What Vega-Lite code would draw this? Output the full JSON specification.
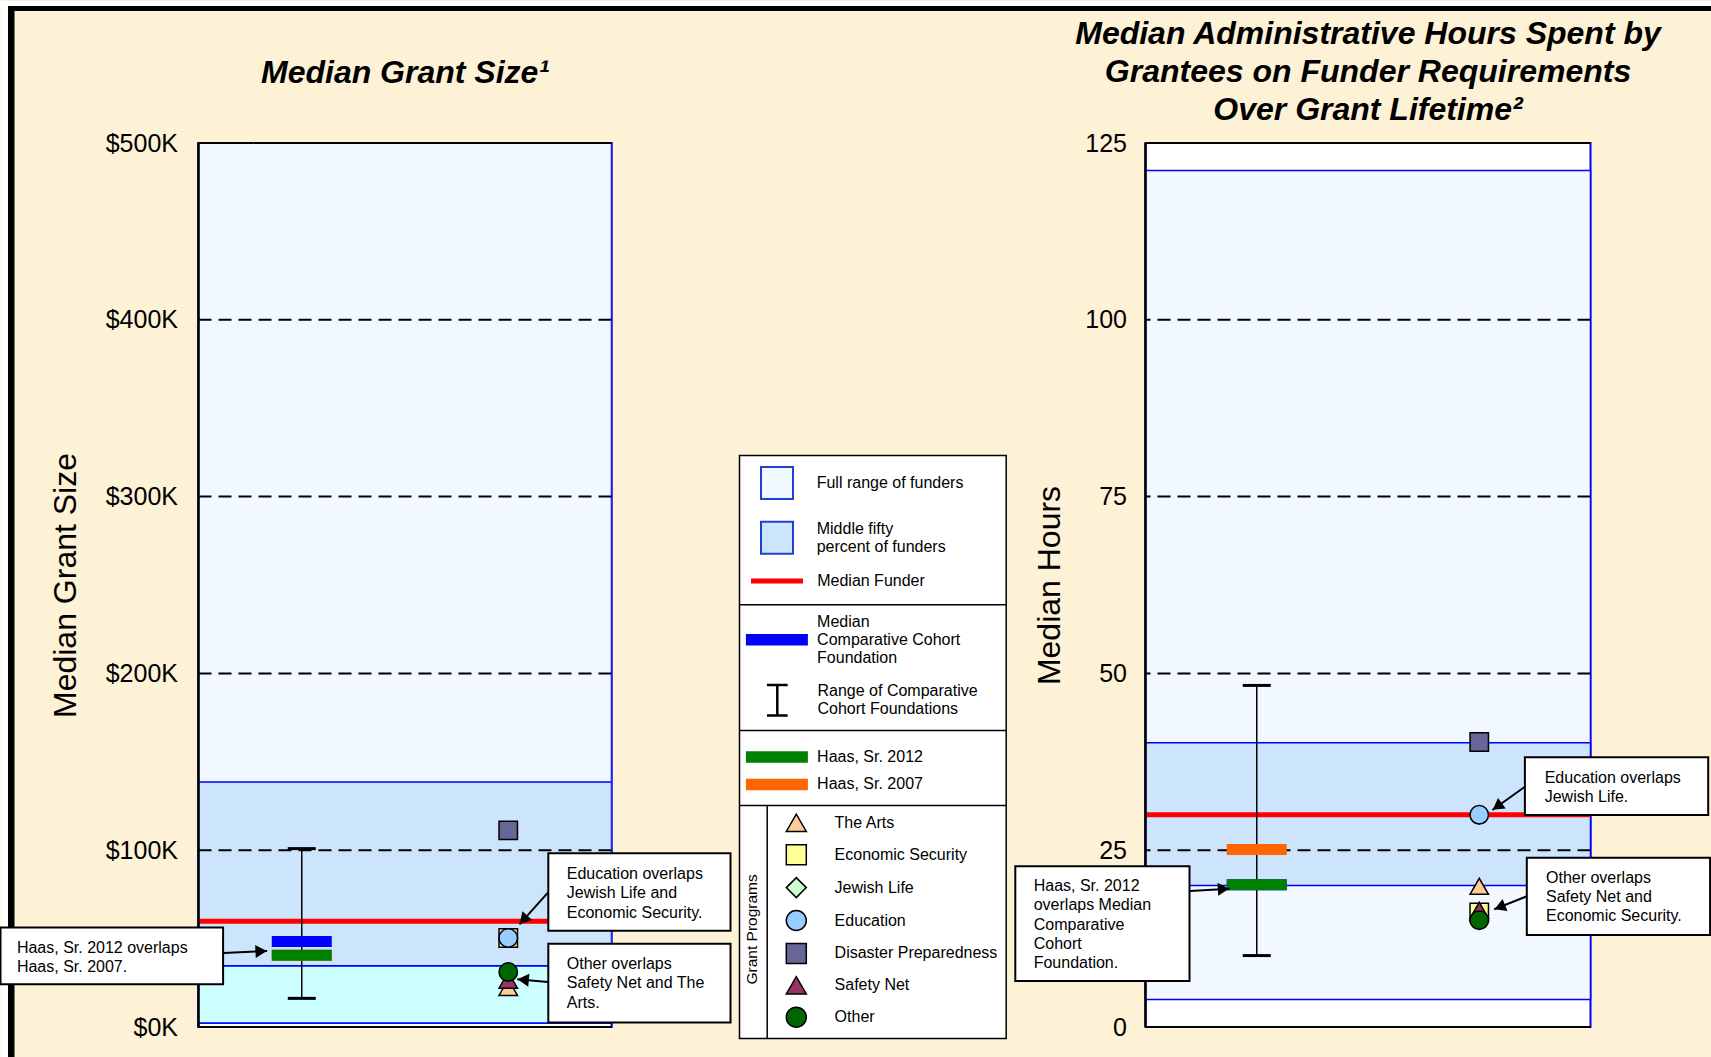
{
  "$schema": "https://vega.github.io/schema/vega-lite/v6.json",
  "background": "#fdf1d6",
  "padding": {"left": -2.5, "top": -1, "right": 0, "bottom": 0},
  "autosize": {"type": "pad"},
  "spacing": 534,
  "bounds": "flush",
  "datasets": {
    "grant_bands": [
      {"stat": "Full range of funders", "low": 2.3, "high": 520},
      {"stat": "Lower quartile of funders", "low": 2.3, "high": 34.7},
      {"stat": "Middle fifty percent of funders", "low": 34.7, "high": 138.6}
    ],
    "grant_median": [{"stat": "Median Funder", "value": 59.8}],
    "grant_grid": [{"tick": 0}, {"tick": 100}, {"tick": 200}, {"tick": 300}, {"tick": 400}, {"tick": 500}],
    "grant_cohort": [
      {"stat": "Median Comparative Cohort Foundation", "group": "Comparative Cohort", "value": 48.3},
      {"stat": "Range of Comparative Cohort Foundations", "group": "Comparative Cohort", "low": 16.2, "high": 100.9}
    ],
    "grant_haas": [
      {"stat": "Haas, Sr. 2007", "group": "Comparative Cohort", "value": 40.6},
      {"stat": "Haas, Sr. 2012", "group": "Comparative Cohort", "value": 40.6}
    ],
    "grant_programs": [
      {"program": "Jewish Life", "group": "Grant Programs", "value": 50.3},
      {"program": "Economic Security", "group": "Grant Programs", "value": 50.3},
      {"program": "Education", "group": "Grant Programs", "value": 50.3},
      {"program": "Disaster Preparedness", "group": "Grant Programs", "value": 111.2},
      {"program": "The Arts", "group": "Grant Programs", "value": 22.4},
      {"program": "Safety Net", "group": "Grant Programs", "value": 26.5},
      {"program": "Other", "group": "Grant Programs", "value": 31.1}
    ],
    "hours_bands": [
      {"stat": "Full range of funders", "low": 3.9, "high": 121.1},
      {"stat": "Middle fifty percent of funders", "low": 20.0, "high": 40.2}
    ],
    "hours_median": [{"stat": "Median Funder", "value": 30.0}],
    "hours_grid": [{"tick": 0}, {"tick": 25}, {"tick": 50}, {"tick": 75}, {"tick": 100}, {"tick": 125}],
    "hours_cohort": [
      {"stat": "Median Comparative Cohort Foundation", "group": "Comparative Cohort", "value": 20.1},
      {"stat": "Range of Comparative Cohort Foundations", "group": "Comparative Cohort", "low": 10.1, "high": 48.3}
    ],
    "hours_haas": [
      {"stat": "Haas, Sr. 2007", "group": "Comparative Cohort", "value": 25.1},
      {"stat": "Haas, Sr. 2012", "group": "Comparative Cohort", "value": 20.1}
    ],
    "hours_programs": [
      {"program": "Jewish Life", "group": "Grant Programs", "value": 30.0},
      {"program": "Economic Security", "group": "Grant Programs", "value": 16.2},
      {"program": "Education", "group": "Grant Programs", "value": 30.0},
      {"program": "Disaster Preparedness", "group": "Grant Programs", "value": 40.3},
      {"program": "The Arts", "group": "Grant Programs", "value": 19.9},
      {"program": "Safety Net", "group": "Grant Programs", "value": 16.5},
      {"program": "Other", "group": "Grant Programs", "value": 15.1}
    ]
  },
  "hconcat": [
    {
      "width": 413,
      "height": 884,
      "title": {"text": "Median Grant Size¹", "offset": -88.6},
      "resolve": {
        "scale": {"x": "independent", "fill": "independent", "shape": "independent", "stroke": "independent"},
        "legend": {"fill": "independent", "shape": "independent", "stroke": "independent"}
      },
      "layer": [
        {
          "data": {"values": [{}]},
          "layer": [
            {"mark": {"type": "rect", "fill": "white"},
             "encoding": {"x": {"datum": -0.47942, "type": "quantitative", "scale": {"domain": [0, 1], "nice": false, "zero": false}, "axis": null}, "x2": {"datum": 3.66344},
                          "y": {"datum": 580.317, "type": "quantitative"}, "y2": {"datum": 577.489}}},
            {"mark": {"type": "rect", "fill": "white"},
             "encoding": {"x": {"datum": -0.47942, "type": "quantitative", "axis": null}, "x2": {"datum": -0.46126},
                          "y": {"datum": 580.317, "type": "quantitative"}, "y2": {"datum": -17.534}}},
            {"mark": {"type": "rect", "fill": "black"},
             "encoding": {"x": {"datum": -0.46126, "type": "quantitative", "axis": null}, "x2": {"datum": 3.66344},
                          "y": {"datum": 577.489, "type": "quantitative"}, "y2": {"datum": 574.661}}},
            {"mark": {"type": "rect", "fill": "black"},
             "encoding": {"x": {"datum": -0.46126, "type": "quantitative", "axis": null}, "x2": {"datum": -0.44552},
                          "y": {"datum": 577.489, "type": "quantitative"}, "y2": {"datum": -17.534}}},
            {"mark": {"type": "rect", "fill": "white", "stroke": "#0000ff", "strokeWidth": 2},
             "encoding": {"x": {"datum": 0, "type": "quantitative", "axis": null}, "x2": {"datum": 1},
                          "y": {"datum": 0, "type": "quantitative"}, "y2": {"datum": 500}}}
          ]
        },
        {
          "data": {"name": "grant_bands"},
          "transform": [{"filter": "datum.stat !== 'Middle fifty percent of funders'"}],
          "mark": {"type": "rect", "stroke": "#0000ff", "strokeWidth": 1.5, "clip": true},
          "encoding": {
            "y": {"field": "low", "type": "quantitative", "scale": {"domain": [0, 500], "nice": false, "zero": true},
                  "axis": {"title": "Median Grant Size", "values": [0, 100, 200, 300, 400, 500], "labelExpr": "'$' + datum.value + 'K'", "labelPadding": 21, "titlePadding": 23, "zindex": 1, "domain": false}},
            "y2": {"field": "high"},
            "color": {"field": "stat", "type": "nominal",
              "scale": {"domain": ["Full range of funders", "Lower quartile of funders"], "range": ["#f2f8ff", "#ccffff"]},
              "legend": {
                "orient": "none", "legendX": 561.5, "legendY": 323, "title": null, "padding": 0, "offset": 0,
                "symbolType": "square", "symbolSize": 1024, "symbolStrokeColor": "#2040d0", "symbolStrokeWidth": 2,
                "symbolOffset": 0, "labelOffset": 22.7,
                "values": ["Full range of funders"]
              }
            }
          }
        },
        {
          "data": {"name": "grant_bands"},
          "transform": [{"filter": "datum.stat === 'Middle fifty percent of funders'"}],
          "mark": {"type": "rect", "stroke": "#0000ff", "strokeWidth": 1.5, "clip": true},
          "encoding": {
            "y": {"field": "low", "type": "quantitative"},
            "y2": {"field": "high"},
            "fill": {"field": "stat", "type": "nominal",
              "scale": {"domain": ["Middle fifty percent of funders"], "range": ["#cde5fc"]},
              "legend": {
                "orient": "none", "legendX": 561.5, "legendY": 368.7, "title": null, "padding": 0, "offset": 0,
                "symbolType": "M-1,-0.4375H1V1.5625H-1Z", "symbolSize": 1024, "symbolStrokeColor": "#2040d0", "symbolStrokeWidth": 2,
                "symbolOffset": 0, "labelOffset": 22.7,
                "labelExpr": "['Middle fifty', 'percent of funders']"
              }
            }
          }
        },
        {
          "data": {"name": "grant_grid"},
          "mark": {"type": "rule", "color": "black", "strokeWidth": 2},
          "encoding": {
            "y": {"field": "tick", "type": "quantitative"},
            "strokeDash": {"condition": {"test": "datum.tick === 0 || datum.tick === 500", "value": [1, 0]}, "value": [13, 7]}
          }
        },
        {
          "data": {"name": "grant_median"},
          "mark": {"type": "rule", "strokeWidth": 5},
          "encoding": {
            "y": {"field": "value", "type": "quantitative"},
            "stroke": {"field": "stat", "type": "nominal",
              "scale": {"domain": ["Median Funder"], "range": ["#ff0000"]},
              "legend": {
                "orient": "none", "legendX": 550, "legendY": 409.5, "title": null, "padding": 0, "offset": 0,
                "symbolType": "M-1,0H1", "symbolSize": 2704, "symbolStrokeWidth": 5, "symbolFillColor": "transparent",
                "symbolOffset": 0, "labelOffset": 11.7
              }
            }
          }
        },
        {
          "data": {"name": "grant_cohort"},
          "transform": [{"filter": "datum.stat === 'Range of Comparative Cohort Foundations'"}],
          "mark": {"type": "rule", "color": "black", "strokeWidth": 1.5},
          "encoding": {
            "x": {"field": "group", "type": "nominal", "scale": {"type": "band", "domain": ["Comparative Cohort", "Grant Programs"], "paddingInner": 0, "paddingOuter": 0}, "axis": null},
            "y": {"field": "low", "type": "quantitative"},
            "y2": {"field": "high"},
            "strokeDash": {"field": "stat", "type": "nominal",
              "scale": {"domain": ["Range of Comparative Cohort Foundations"], "range": [[1, 0]]},
              "legend": {
                "orient": "none", "legendX": 546.3, "legendY": 515.75, "title": null, "padding": 0, "offset": 0,
                "symbolType": "M-0.334,-0.204H0.334M0,-0.204V0.784M-0.334,0.784H0.334", "symbolSize": 3844,
                "symbolStrokeColor": "black", "symbolStrokeWidth": 2.5, "symbolFillColor": "transparent",
                "symbolOffset": 0, "labelOffset": 7.7,
                "labelExpr": "['Range of Comparative', 'Cohort Foundations']"
              }
            }
          }
        },
        {
          "data": {"name": "grant_cohort"},
          "transform": [{"filter": "datum.stat === 'Range of Comparative Cohort Foundations'"}],
          "mark": {"type": "tick", "color": "black", "thickness": 3, "size": 28, "opacity": 1},
          "encoding": {
            "x": {"field": "group", "type": "nominal", "scale": {"type": "band", "domain": ["Comparative Cohort", "Grant Programs"], "paddingInner": 0, "paddingOuter": 0}, "axis": null},
            "y": {"field": "low", "type": "quantitative"}
          }
        },
        {
          "data": {"name": "grant_cohort"},
          "transform": [{"filter": "datum.stat === 'Range of Comparative Cohort Foundations'"}],
          "mark": {"type": "tick", "color": "black", "thickness": 3, "size": 28, "opacity": 1},
          "encoding": {
            "x": {"field": "group", "type": "nominal", "scale": {"type": "band", "domain": ["Comparative Cohort", "Grant Programs"], "paddingInner": 0, "paddingOuter": 0}, "axis": null},
            "y": {"field": "high", "type": "quantitative"}
          }
        },
        {
          "data": {"name": "grant_cohort"},
          "transform": [{"filter": "datum.stat === 'Median Comparative Cohort Foundation'"}],
          "mark": {"type": "tick", "color": "#0000ff", "thickness": 11, "size": 60},
          "encoding": {
            "x": {"field": "group", "type": "nominal", "scale": {"type": "band", "domain": ["Comparative Cohort", "Grant Programs"], "paddingInner": 0, "paddingOuter": 0}, "axis": null},
            "y": {"field": "value", "type": "quantitative"},
            "opacity": {"field": "stat", "type": "nominal",
              "scale": {"domain": ["Median Comparative Cohort Foundation"], "range": [1]},
              "legend": {
                "orient": "none", "legendX": 547.4, "legendY": 447.7, "title": null, "padding": 0, "offset": 0,
                "symbolType": "M-1,0.396H1V0.766H-1Z", "symbolSize": 3844,
                "symbolFillColor": "#0000ff", "symbolStrokeColor": "transparent", "symbolStrokeWidth": 0,
                "symbolOffset": 0, "labelOffset": 9.2,
                "labelExpr": "['Median', 'Comparative Cohort', 'Foundation']"
              }
            }
          }
        },
        {
          "data": {"name": "grant_haas"},
          "mark": {"type": "tick", "thickness": 11, "size": 60, "opacity": 1},
          "encoding": {
            "x": {"field": "group", "type": "nominal", "scale": {"type": "band", "domain": ["Comparative Cohort", "Grant Programs"], "paddingInner": 0, "paddingOuter": 0}, "axis": null},
            "y": {"field": "value", "type": "quantitative"},
            "fill": {"field": "stat", "type": "nominal",
              "scale": {"domain": ["Haas, Sr. 2012", "Haas, Sr. 2007"], "range": ["#008000", "#ff6600"]},
              "legend": {
                "orient": "none", "legendX": 570.4, "legendY": 606, "title": null, "padding": 0, "offset": 0,
                "symbolType": "M-3.875,-0.719H3.875V0.719H-3.875Z", "symbolSize": 256, "symbolStrokeWidth": 0,
                "symbolOffset": 0, "labelOffset": 32.2, "rowPadding": 11.4
              }
            }
          }
        },
        {
          "data": {"name": "grant_programs"},
          "mark": {"type": "point", "filled": true, "size": 340, "strokeWidth": 1.5, "opacity": 1},
          "encoding": {
            "x": {"field": "group", "type": "nominal", "scale": {"type": "band", "domain": ["Comparative Cohort", "Grant Programs"], "paddingInner": 0, "paddingOuter": 0}, "axis": null},
            "y": {"field": "value", "type": "quantitative"},
            "shape": {"field": "program", "type": "nominal",
              "scale": {"domain": ["The Arts", "Economic Security", "Jewish Life", "Education", "Disaster Preparedness", "Safety Net", "Other"],
                        "range": ["triangle-up", "square", "diamond", "circle", "square", "triangle-up", "circle"]},
              "legend": {
                "orient": "none", "legendX": 586.8, "legendY": 668.8, "title": null, "padding": 0, "offset": 0,
                "symbolSize": 400, "symbolOffset": 0, "labelOffset": 27.3, "rowPadding": 6.9, "symbolStrokeWidth": 1.5
              }
            },
            "fill": {"field": "program", "type": "nominal",
              "scale": {"domain": ["The Arts", "Economic Security", "Jewish Life", "Education", "Disaster Preparedness", "Safety Net", "Other"],
                        "range": ["#ffcc99", "#ffff99", "#ccffcc", "#99ccff", "#666699", "#993366", "#006600"]},
              "legend": {
                "orient": "none", "legendX": 586.8, "legendY": 668.8, "title": null, "padding": 0, "offset": 0,
                "symbolSize": 400, "symbolOffset": 0, "labelOffset": 27.3, "rowPadding": 6.9, "symbolStrokeWidth": 1.5
              }
            },
            "stroke": {"field": "program", "type": "nominal",
              "scale": {"domain": ["The Arts", "Economic Security", "Jewish Life", "Education", "Disaster Preparedness", "Safety Net", "Other"],
                        "range": ["black", "black", "black", "black", "black", "black", "black"]},
              "legend": {
                "orient": "none", "legendX": 586.8, "legendY": 668.8, "title": null, "padding": 0, "offset": 0,
                "symbolSize": 400, "symbolOffset": 0, "labelOffset": 27.3, "rowPadding": 6.9, "symbolStrokeWidth": 1.5
              }
            }
          }
        },
        {
          "data": {"values": [{}]},
          "layer": [
            {"mark": {"type": "rule", "color": "black", "strokeWidth": 2.5},
             "encoding": {"x": {"datum": 0, "type": "quantitative", "scale": {"domain": [0, 1], "nice": false, "zero": false}, "axis": null},
                          "y": {"datum": 0, "type": "quantitative"}, "y2": {"datum": 500}}},
            {"mark": {"type": "rect", "fill": "white", "stroke": "black", "strokeWidth": 2},
             "encoding": {"x": {"datum": -0.47942, "type": "quantitative", "axis": null}, "x2": {"datum": 0.05956},
                          "y": {"datum": 56.335, "type": "quantitative"}, "y2": {"datum": 24.208}}},
            {"mark": {"type": "text", "align": "left", "baseline": "top", "fontSize": 16, "lineHeight": 18.6, "color": "black"},
             "encoding": {"x": {"datum": -0.43971, "type": "quantitative", "axis": null}, "y": {"datum": 49.208, "type": "quantitative"},
                          "text": {"value": ["Haas, Sr. 2012 overlaps", "Haas, Sr. 2007."]}}},
            {"mark": {"type": "rule", "color": "black", "strokeWidth": 2},
             "encoding": {"x": {"datum": 0.06053, "type": "quantitative", "axis": null}, "x2": {"datum": 0.1661},
                          "y": {"datum": 41.855, "type": "quantitative"}, "y2": {"datum": 42.986}}},
            {"mark": {"type": "point", "shape": "triangle-up", "filled": true, "color": "black", "size": 170, "angle": 87, "opacity": 1},
             "encoding": {"x": {"datum": 0.15157, "type": "quantitative", "axis": null}, "y": {"datum": 42.816, "type": "quantitative"}}},

            {"mark": {"type": "rect", "fill": "white", "stroke": "black", "strokeWidth": 2},
             "encoding": {"x": {"datum": 0.84697, "type": "quantitative", "axis": null}, "x2": {"datum": 1.28814},
                          "y": {"datum": 98.303, "type": "quantitative"}, "y2": {"datum": 54.468}}},
            {"mark": {"type": "text", "align": "left", "baseline": "top", "fontSize": 16, "lineHeight": 19.6, "color": "black"},
             "encoding": {"x": {"datum": 0.89177, "type": "quantitative", "axis": null}, "y": {"datum": 91.12, "type": "quantitative"},
                          "text": {"value": ["Education overlaps", "Jewish Life and", "Economic Security."]}}},
            {"mark": {"type": "rule", "color": "black", "strokeWidth": 2},
             "encoding": {"x": {"datum": 0.846, "type": "quantitative", "axis": null}, "x2": {"datum": 0.77724},
                          "y": {"datum": 75.961, "type": "quantitative"}, "y2": {"datum": 58.088}}},
            {"mark": {"type": "point", "shape": "triangle-up", "filled": true, "color": "black", "size": 170, "angle": 222, "opacity": 1},
             "encoding": {"x": {"datum": 0.78692, "type": "quantitative", "axis": null}, "y": {"datum": 60.634, "type": "quantitative"}}},

            {"mark": {"type": "rect", "fill": "white", "stroke": "black", "strokeWidth": 2},
             "encoding": {"x": {"datum": 0.84697, "type": "quantitative", "axis": null}, "x2": {"datum": 1.28814},
                          "y": {"datum": 47.059, "type": "quantitative"}, "y2": {"datum": 2.602}}},
            {"mark": {"type": "text", "align": "left", "baseline": "top", "fontSize": 16, "lineHeight": 19.1, "color": "black"},
             "encoding": {"x": {"datum": 0.89177, "type": "quantitative", "axis": null}, "y": {"datum": 39.932, "type": "quantitative"},
                          "text": {"value": ["Other overlaps", "Safety Net and The", "Arts."]}}},
            {"mark": {"type": "rule", "color": "black", "strokeWidth": 2},
             "encoding": {"x": {"datum": 0.846, "type": "quantitative", "axis": null}, "x2": {"datum": 0.77167},
                          "y": {"datum": 25.452, "type": "quantitative"}, "y2": {"datum": 26.98}}},
            {"mark": {"type": "point", "shape": "triangle-up", "filled": true, "color": "black", "size": 170, "angle": 275, "opacity": 1},
             "encoding": {"x": {"datum": 0.7862, "type": "quantitative", "axis": null}, "y": {"datum": 26.697, "type": "quantitative"}}},

            {"mark": {"type": "rect", "fill": "white", "stroke": "black", "strokeWidth": 1.5},
             "encoding": {"x": {"datum": 1.30993, "type": "quantitative", "axis": null}, "x2": {"datum": 1.95569},
                          "y": {"datum": 323.19, "type": "quantitative"}, "y2": {"datum": -6.505}}},
            {"mark": {"type": "rule", "color": "black", "strokeWidth": 1.5},
             "encoding": {"x": {"datum": 1.30993, "type": "quantitative", "axis": null}, "x2": {"datum": 1.95569}, "y": {"datum": 238.8, "type": "quantitative"}}},
            {"mark": {"type": "rule", "color": "black", "strokeWidth": 1.5},
             "encoding": {"x": {"datum": 1.30993, "type": "quantitative", "axis": null}, "x2": {"datum": 1.95569}, "y": {"datum": 167.76, "type": "quantitative"}}},
            {"mark": {"type": "rule", "color": "black", "strokeWidth": 1.5},
             "encoding": {"x": {"datum": 1.30993, "type": "quantitative", "axis": null}, "x2": {"datum": 1.95569}, "y": {"datum": 125.34, "type": "quantitative"}}},
            {"mark": {"type": "rule", "color": "black", "strokeWidth": 1.5},
             "encoding": {"x": {"datum": 1.377, "type": "quantitative", "axis": null}, "y": {"datum": 125.34, "type": "quantitative"}, "y2": {"datum": -6.505}}},
            {"mark": {"type": "text", "align": "center", "baseline": "middle", "fontSize": 15.5, "angle": 270, "color": "black"},
             "encoding": {"x": {"datum": 1.34068, "type": "quantitative", "axis": null}, "y": {"datum": 55.2, "type": "quantitative"},
                          "text": {"value": "Grant Programs"}}}
          ]
        }
      ]
    },
    {
      "width": 445,
      "height": 884,
      "title": {"text": ["Median Administrative Hours Spent by", "Grantees on Funder Requirements", "Over Grant Lifetime²"], "offset": 4},
      "resolve": {
        "scale": {"x": "independent", "fill": "independent", "shape": "independent", "stroke": "independent"},
        "legend": {"fill": "independent", "shape": "independent", "stroke": "independent"}
      },
      "layer": [
        {
          "data": {"name": "hours_bands"},
          "mark": {"type": "rect", "stroke": "#0000ff", "strokeWidth": 1.5},
          "encoding": {
            "y": {"field": "low", "type": "quantitative", "scale": {"domain": [0, 125], "nice": false, "zero": true},
                  "axis": {"title": "Median Hours", "values": [0, 25, 50, 75, 100, 125], "labelPadding": 19, "titlePadding": 18, "zindex": 1, "domain": false}},
            "y2": {"field": "high"},
            "color": {"field": "stat", "type": "nominal",
              "scale": {"domain": ["Full range of funders", "Middle fifty percent of funders", "Lower quartile of funders"],
                        "range": ["#f2f8ff", "#cde5fc", "#ccffff"]},
              "legend": null}
          }
        },
        {
          "data": {"name": "hours_grid"},
          "mark": {"type": "rule", "color": "black", "strokeWidth": 2},
          "encoding": {
            "y": {"field": "tick", "type": "quantitative"},
            "strokeDash": {"condition": {"test": "datum.tick === 0 || datum.tick === 125", "value": [1, 0]}, "value": [13, 7]}
          }
        },
        {
          "data": {"name": "hours_median"},
          "mark": {"type": "rule", "strokeWidth": 5},
          "encoding": {
            "y": {"field": "value", "type": "quantitative"},
            "stroke": {"field": "stat", "type": "nominal", "scale": {"domain": ["Median Funder"], "range": ["#ff0000"]}, "legend": null}
          }
        },
        {
          "data": {"name": "hours_cohort"},
          "transform": [{"filter": "datum.stat === 'Range of Comparative Cohort Foundations'"}],
          "mark": {"type": "rule", "color": "black", "strokeWidth": 1.5},
          "encoding": {
            "x": {"field": "group", "type": "nominal", "scale": {"type": "band", "domain": ["Comparative Cohort", "Grant Programs"], "paddingInner": 0, "paddingOuter": 0}, "axis": null},
            "y": {"field": "low", "type": "quantitative"},
            "y2": {"field": "high"},
            "strokeDash": {"field": "stat", "type": "nominal", "scale": {"domain": ["Range of Comparative Cohort Foundations"], "range": [[1, 0]]}, "legend": null}
          }
        },
        {
          "data": {"name": "hours_cohort"},
          "transform": [{"filter": "datum.stat === 'Range of Comparative Cohort Foundations'"}],
          "mark": {"type": "tick", "color": "black", "thickness": 3, "size": 28, "opacity": 1},
          "encoding": {
            "x": {"field": "group", "type": "nominal", "scale": {"type": "band", "domain": ["Comparative Cohort", "Grant Programs"], "paddingInner": 0, "paddingOuter": 0}, "axis": null},
            "y": {"field": "low", "type": "quantitative"}
          }
        },
        {
          "data": {"name": "hours_cohort"},
          "transform": [{"filter": "datum.stat === 'Range of Comparative Cohort Foundations'"}],
          "mark": {"type": "tick", "color": "black", "thickness": 3, "size": 28, "opacity": 1},
          "encoding": {
            "x": {"field": "group", "type": "nominal", "scale": {"type": "band", "domain": ["Comparative Cohort", "Grant Programs"], "paddingInner": 0, "paddingOuter": 0}, "axis": null},
            "y": {"field": "high", "type": "quantitative"}
          }
        },
        {
          "data": {"name": "hours_cohort"},
          "transform": [{"filter": "datum.stat === 'Median Comparative Cohort Foundation'"}],
          "mark": {"type": "tick", "color": "#0000ff", "thickness": 11, "size": 60},
          "encoding": {
            "x": {"field": "group", "type": "nominal", "scale": {"type": "band", "domain": ["Comparative Cohort", "Grant Programs"], "paddingInner": 0, "paddingOuter": 0}, "axis": null},
            "y": {"field": "value", "type": "quantitative"},
            "opacity": {"field": "stat", "type": "nominal", "scale": {"domain": ["Median Comparative Cohort Foundation"], "range": [1]}, "legend": null}
          }
        },
        {
          "data": {"name": "hours_haas"},
          "mark": {"type": "tick", "thickness": 11, "size": 60, "opacity": 1},
          "encoding": {
            "x": {"field": "group", "type": "nominal", "scale": {"type": "band", "domain": ["Comparative Cohort", "Grant Programs"], "paddingInner": 0, "paddingOuter": 0}, "axis": null},
            "y": {"field": "value", "type": "quantitative"},
            "fill": {"field": "stat", "type": "nominal",
              "scale": {"domain": ["Haas, Sr. 2012", "Haas, Sr. 2007"], "range": ["#008000", "#ff6600"]}, "legend": null}
          }
        },
        {
          "data": {"name": "hours_programs"},
          "mark": {"type": "point", "filled": true, "size": 340, "strokeWidth": 1.5, "opacity": 1},
          "encoding": {
            "x": {"field": "group", "type": "nominal", "scale": {"type": "band", "domain": ["Comparative Cohort", "Grant Programs"], "paddingInner": 0, "paddingOuter": 0}, "axis": null},
            "y": {"field": "value", "type": "quantitative"},
            "shape": {"field": "program", "type": "nominal",
              "scale": {"domain": ["The Arts", "Economic Security", "Jewish Life", "Education", "Disaster Preparedness", "Safety Net", "Other"],
                        "range": ["triangle-up", "square", "diamond", "circle", "square", "triangle-up", "circle"]}, "legend": null},
            "fill": {"field": "program", "type": "nominal",
              "scale": {"domain": ["The Arts", "Economic Security", "Jewish Life", "Education", "Disaster Preparedness", "Safety Net", "Other"],
                        "range": ["#ffcc99", "#ffff99", "#ccffcc", "#99ccff", "#666699", "#993366", "#006600"]}, "legend": null},
            "stroke": {"field": "program", "type": "nominal",
              "scale": {"domain": ["The Arts", "Economic Security", "Jewish Life", "Education", "Disaster Preparedness", "Safety Net", "Other"],
                        "range": ["black", "black", "black", "black", "black", "black", "black"]}, "legend": null}
          }
        },
        {
          "data": {"values": [{}]},
          "layer": [
            {"mark": {"type": "rule", "color": "black", "strokeWidth": 2.5},
             "encoding": {"x": {"datum": 0, "type": "quantitative", "scale": {"domain": [0, 1], "nice": false, "zero": false}, "axis": null},
                          "y": {"datum": 0, "type": "quantitative"}, "y2": {"datum": 125}}},
            {"mark": {"type": "rect", "fill": "white", "stroke": "black", "strokeWidth": 2},
             "encoding": {"x": {"datum": 0.85258, "type": "quantitative", "axis": null}, "x2": {"datum": 1.26449},
                          "y": {"datum": 38.15, "type": "quantitative"}, "y2": {"datum": 29.977}}},
            {"mark": {"type": "text", "align": "left", "baseline": "top", "fontSize": 16, "lineHeight": 19.3, "color": "black"},
             "encoding": {"x": {"datum": 0.89708, "type": "quantitative", "axis": null}, "y": {"datum": 36.383, "type": "quantitative"},
                          "text": {"value": ["Education overlaps", "Jewish Life."]}}},
            {"mark": {"type": "rule", "color": "black", "strokeWidth": 2},
             "encoding": {"x": {"datum": 0.85169, "type": "quantitative", "axis": null}, "x2": {"datum": 0.77955},
                          "y": {"datum": 33.937, "type": "quantitative"}, "y2": {"datum": 30.684}}},
            {"mark": {"type": "point", "shape": "triangle-up", "filled": true, "color": "black", "size": 170, "angle": 234, "opacity": 1},
             "encoding": {"x": {"datum": 0.79056, "type": "quantitative", "axis": null}, "y": {"datum": 31.179, "type": "quantitative"}}},

            {"mark": {"type": "rect", "fill": "white", "stroke": "black", "strokeWidth": 2},
             "encoding": {"x": {"datum": 0.85685, "type": "quantitative", "axis": null}, "x2": {"datum": 1.26876},
                          "y": {"datum": 23.94, "type": "quantitative"}, "y2": {"datum": 13.009}}},
            {"mark": {"type": "text", "align": "left", "baseline": "top", "fontSize": 16, "lineHeight": 19.15, "color": "black"},
             "encoding": {"x": {"datum": 0.9, "type": "quantitative", "axis": null}, "y": {"datum": 22.2, "type": "quantitative"},
                          "text": {"value": ["Other overlaps", "Safety Net and", "Economic Security."]}}},
            {"mark": {"type": "rule", "color": "black", "strokeWidth": 2},
             "encoding": {"x": {"datum": 0.85685, "type": "quantitative", "axis": null}, "x2": {"datum": 0.7836},
                          "y": {"datum": 18.481, "type": "quantitative"}, "y2": {"datum": 16.643}}},
            {"mark": {"type": "point", "shape": "triangle-up", "filled": true, "color": "black", "size": 170, "angle": 248, "opacity": 1},
             "encoding": {"x": {"datum": 0.79618, "type": "quantitative", "axis": null}, "y": {"datum": 16.954, "type": "quantitative"}}},

            {"mark": {"type": "rect", "fill": "white", "stroke": "black", "strokeWidth": 2},
             "encoding": {"x": {"datum": -0.29258, "type": "quantitative", "axis": null}, "x2": {"datum": 0.09888},
                          "y": {"datum": 22.723, "type": "quantitative"}, "y2": {"datum": 6.519}}},
            {"mark": {"type": "text", "align": "left", "baseline": "top", "fontSize": 16, "lineHeight": 19.2, "color": "black"},
             "encoding": {"x": {"datum": -0.25124, "type": "quantitative", "axis": null}, "y": {"datum": 21.027, "type": "quantitative"},
                          "text": {"value": ["Haas, Sr. 2012", "overlaps Median", "Comparative", "Cohort", "Foundation."]}}},
            {"mark": {"type": "rule", "color": "black", "strokeWidth": 2},
             "encoding": {"x": {"datum": 0.10045, "type": "quantitative", "axis": null}, "x2": {"datum": 0.18876},
                          "y": {"datum": 19.231, "type": "quantitative"}, "y2": {"datum": 19.556}}},
            {"mark": {"type": "point", "shape": "triangle-up", "filled": true, "color": "black", "size": 170, "angle": 87, "opacity": 1},
             "encoding": {"x": {"datum": 0.17528, "type": "quantitative", "axis": null}, "y": {"datum": 19.514, "type": "quantitative"}}}
          ]
        }
      ]
    }
  ],
  "resolve": {
    "scale": {"color": "independent", "fill": "independent", "shape": "independent", "opacity": "independent", "stroke": "independent", "strokeDash": "independent"},
    "legend": {"color": "independent", "fill": "independent", "shape": "independent", "opacity": "independent", "stroke": "independent", "strokeDash": "independent"}
  },
  "config": {
    "font": "Liberation Sans",
    "view": {"stroke": "#0000ff", "strokeWidth": 2, "fill": "white"},
    "axis": {
      "grid": false, "ticks": false, "domainColor": "black", "domainWidth": 2.5,
      "labelFont": "Liberation Sans", "labelFontSize": 25, "labelColor": "black", "labelFlush": false, "labelOverlap": false,
      "titleFont": "Liberation Sans", "titleFontSize": 32, "titleFontWeight": "normal", "titleColor": "black", "zindex": 1
    },
    "title": {"font": "Liberation Sans", "fontSize": 32, "fontStyle": "italic", "fontWeight": "bold", "color": "black", "anchor": "middle", "frame": "group", "lineHeight": 38},
    "legend": {"labelFont": "Liberation Sans", "labelFontSize": 16, "labelColor": "black", "labelLimit": 400},
    "text": {"font": "Liberation Sans"}
  }
}
